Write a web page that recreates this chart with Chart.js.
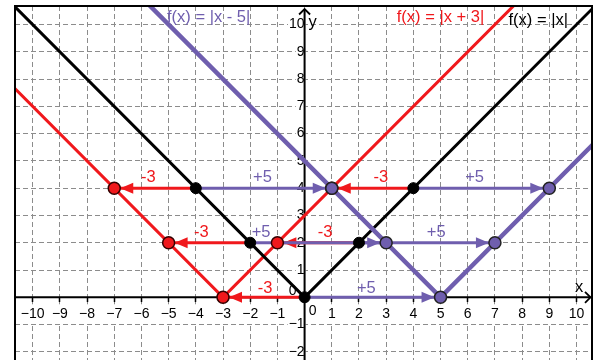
<!DOCTYPE html>
<html>
<head>
<meta charset="utf-8">
<script src="https://cdn.jsdelivr.net/npm/chart.js@4.4.1/dist/chart.umd.min.js"></script>
<style>
  html, body { margin: 0; padding: 0; background: #fff; }
  #wrap { width: 595px; height: 360px; }
</style>
</head>
<body>
<div id="wrap"><canvas id="chart1" width="595" height="360"></canvas></div>
<script>
"use strict";

var xTicks = [-10, -9, -8, -7, -6, -5, -4, -3, -2, -1, 0, 1, 2, 3, 4, 5, 6, 7, 8, 9, 10];
var yTicks = [-2, -1, 0, 1, 2, 3, 4, 5, 6, 7, 8, 9, 10];

// each V: left far point, vertex, right far point
var absX = [-11, 0, 11];
var absY = [11, 0, 11];
var plus3X = [-14, -3, 8];
var plus3Y = [11, 0, 11];
var minus5X = [-6, 5, 16];
var minus5Y = [11, 0, 11];

// points on |x| and where they end up after the shifts
var basePtX = [-4, -2, 0, 2, 4];
var basePtY = [4, 2, 0, 2, 4];
var leftPtX = [-7, -5, -3, -1, 1];
var rightPtX = [1, 3, 5, 7, 9];

// "-3" / "+5" tags beside the arrows
var leftTagX = [-5.75, -3.8, -1.45, 0.75, 2.8];
var rightTagX = [-1.55, -1.6, 2.27, 4.84, 6.25];
var tagY = [4.41, 2.36, 0.34, 2.36, 4.41];

// function names along the top
var curveNames = ['f(x) = |x|', 'f(x) = |x + 3|', 'f(x) = |x - 5|'];
var nameX = [7.5, 3.39, -5.06];
var nameY = [10.0, 10.1, 10.08];

var RED = '#f0181c';
var PURPLE = '#6f5eae';
var FONT = "'Liberation Sans', Arial, sans-serif";

var toPoints = function (xs, ys) {
  return xs.map(function (x, i) { return { x: x, y: ys[i] }; });
};

var datasets = [
  { data: toPoints(absX, absY), borderColor: '#000', borderWidth: 3, pointRadius: 0, order: 10 },
  { data: toPoints(plus3X, plus3Y), borderColor: RED, borderWidth: 3, pointRadius: 0, order: 10 },
  { data: toPoints(minus5X, minus5Y), borderColor: PURPLE, borderWidth: 4.5, pointRadius: 0, order: 9 }
];

// shift arrows, red first so the purple ones sit over them
basePtX.forEach(function (x, i) {
  datasets.push({
    data: [{ x: x, y: basePtY[i] }, { x: leftPtX[i], y: basePtY[i] }],
    borderColor: RED, borderWidth: 3, pointRadius: 0, arrow: true, order: 8
  });
});
basePtX.forEach(function (x, i) {
  datasets.push({
    data: [{ x: x, y: basePtY[i] }, { x: rightPtX[i], y: basePtY[i] }],
    borderColor: PURPLE, borderWidth: 3, pointRadius: 0, arrow: true, order: 7
  });
});

datasets.push({
  data: toPoints(leftPtX, basePtY), showLine: false, order: 6,
  pointRadius: 6, pointBackgroundColor: RED, pointBorderColor: '#300', pointBorderWidth: 1.5
});
datasets.push({
  data: toPoints(rightPtX, basePtY), showLine: false, order: 5,
  pointRadius: 6, pointBackgroundColor: PURPLE, pointBorderColor: '#222', pointBorderWidth: 1.5
});
datasets.push({
  data: toPoints(basePtX, basePtY), showLine: false, order: 4,
  pointRadius: 5.5, pointBackgroundColor: '#000', pointBorderColor: '#000', pointBorderWidth: 1
});

// arrow tips, drawn right after their own line
var arrowHeads = {
  id: 'arrowHeads',
  afterDatasetDraw: function (chart, args) {
    var ds = chart.data.datasets[args.index];
    if (!ds.arrow) return;
    var a = args.meta.data[0];
    var b = args.meta.data[1];
    var dir = Math.sign(b.x - a.x);
    var tip = b.x - dir * 6;
    var ctx = chart.ctx;
    ctx.save();
    ctx.fillStyle = ds.borderColor;
    ctx.beginPath();
    ctx.moveTo(tip, b.y);
    ctx.lineTo(tip - dir * 13, b.y - 5.5);
    ctx.lineTo(tip - dir * 13, b.y + 5.5);
    ctx.closePath();
    ctx.fill();
    ctx.restore();
  }
};

var labels = {
  id: 'labels',
  // solid axes through the origin, under all the graphs
  beforeDatasetsDraw: function (chart) {
    var ctx = chart.ctx;
    var area = chart.chartArea;
    var x0 = chart.scales.x.getPixelForValue(0);
    var y0 = chart.scales.y.getPixelForValue(0);
    ctx.save();
    ctx.strokeStyle = '#000';
    ctx.lineWidth = 2;
    ctx.beginPath();
    ctx.moveTo(area.left, y0);
    ctx.lineTo(area.right - 1.5, y0);
    ctx.moveTo(x0, area.bottom);
    ctx.lineTo(x0, area.top + 3);
    ctx.stroke();
    ctx.restore();
  },
  afterDatasetsDraw: function (chart) {
    var ctx = chart.ctx;
    var xs = chart.scales.x;
    var ys = chart.scales.y;
    var nameColors = ['#000', RED, PURPLE];
    ctx.save();
    ctx.font = '16.5px ' + FONT;
    ctx.textAlign = 'left';
    ctx.textBaseline = 'alphabetic';
    curveNames.forEach(function (t, i) {
      ctx.fillStyle = nameColors[i];
      ctx.fillText(t, xs.getPixelForValue(nameX[i]), ys.getPixelForValue(nameY[i]));
    });
    ctx.textAlign = 'center';
    ctx.textBaseline = 'middle';
    tagY.forEach(function (y, i) {
      ctx.fillStyle = RED;
      ctx.fillText('-3', xs.getPixelForValue(leftTagX[i]), ys.getPixelForValue(y));
      ctx.fillStyle = PURPLE;
      ctx.fillText('+5', xs.getPixelForValue(rightTagX[i]), ys.getPixelForValue(y));
    });
    ctx.restore();
  },
  afterDraw: function (chart) {
    var ctx = chart.ctx;
    var area = chart.chartArea;
    var x0 = chart.scales.x.getPixelForValue(0);
    var y0 = chart.scales.y.getPixelForValue(0);
    ctx.save();
    // axis arrows
    ctx.strokeStyle = '#000';
    ctx.lineWidth = 1.8;
    ctx.beginPath();
    ctx.moveTo(x0 - 5.5, area.top + 8.5);
    ctx.lineTo(x0, area.top + 3);
    ctx.lineTo(x0 + 5.5, area.top + 8.5);
    ctx.moveTo(area.right - 7, y0 - 5.5);
    ctx.lineTo(area.right - 1.5, y0);
    ctx.lineTo(area.right - 7, y0 + 5.5);
    ctx.stroke();
    // frame on three sides
    ctx.lineWidth = 2;
    ctx.beginPath();
    ctx.moveTo(area.left, area.bottom);
    ctx.lineTo(area.left, area.top);
    ctx.lineTo(area.right, area.top);
    ctx.lineTo(area.right, area.bottom);
    ctx.stroke();
    // axis names and the two zeros
    ctx.fillStyle = '#000';
    ctx.font = '16.5px ' + FONT;
    ctx.textAlign = 'left';
    ctx.textBaseline = 'alphabetic';
    ctx.fillText('y', x0 + 4, area.top + 21);
    ctx.fillText('x', area.right - 17, y0 - 5);
    ctx.font = '14px ' + FONT;
    ctx.textAlign = 'center';
    ctx.textBaseline = 'middle';
    ctx.fillText('0', x0 + 8, y0 + 14);
    ctx.fillText('0', x0 - 12, y0 - 6);
    ctx.restore();
  }
};

var tickLabel = function (v) {
  if (v === 0) return '';
  return v < 0 ? '\u2212' + Math.abs(v) : String(v);
};

// axes sit inside the plot, so their label overhang must not shrink it
var noOverhang = function (scale) {
  scale.paddingTop = 0;
  scale.paddingBottom = 0;
  scale.paddingLeft = 0;
  scale.paddingRight = 0;
};

var gridStyle = { color: '#8c8c8c', lineWidth: 1, tickLength: 5, tickColor: '#000', tickWidth: 1.5 };
var gridBorder = { display: false, dash: [5, 3] };

var ctx = document.getElementById('chart1').getContext('2d');
new Chart(ctx, {
  type: 'line',
  data: { datasets: datasets },
  options: {
    responsive: false,
    animation: false,
    events: [],
    layout: { autoPadding: false, padding: { left: 15, top: 6, right: 3, bottom: 0 } },
    plugins: {
      legend: { display: false },
      tooltip: { enabled: false }
    },
    elements: { line: { tension: 0 } },
    scales: {
      x: {
        type: 'linear',
        min: -10.65,
        max: 10.57,
        position: { y: 0 },
        afterBuildTicks: function (scale) {
          scale.ticks = xTicks.map(function (v) { return { value: v }; });
        },
        afterFit: noOverhang,
        grid: gridStyle,
        border: gridBorder,
        ticks: {
          autoSkip: false, maxRotation: 0, padding: 3, color: '#000',
          font: { family: FONT, size: 14 },
          showLabelBackdrop: true, backdropColor: '#fff', backdropPadding: 1,
          callback: tickLabel
        }
      },
      y: {
        type: 'linear',
        min: -2.3,
        max: 10.68,
        position: { x: 0 },
        afterBuildTicks: function (scale) {
          scale.ticks = yTicks.map(function (v) { return { value: v }; });
        },
        afterFit: noOverhang,
        grid: gridStyle,
        border: gridBorder,
        ticks: {
          autoSkip: false, padding: 2, color: '#000',
          font: { family: FONT, size: 14 },
          showLabelBackdrop: true, backdropColor: '#fff', backdropPadding: 1,
          callback: tickLabel
        }
      }
    }
  },
  plugins: [arrowHeads, labels]
});
</script>
</body>
</html>
